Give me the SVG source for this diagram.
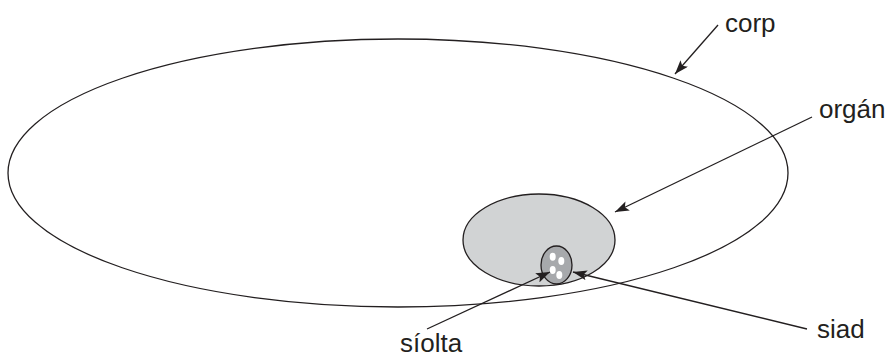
<svg xmlns="http://www.w3.org/2000/svg" width="889" height="359" viewBox="0 0 889 359">
<style>
.lbl{font-family:"Liberation Sans",Arial,sans-serif;font-size:26px;fill:#231f20}
.ln{stroke:#231f20;stroke-width:1.3;fill:none}
.con{stroke:#231f20;stroke-width:1.3;fill:none;marker-end:url(#ah)}
</style>
<defs>
<marker id="ah" viewBox="0 0 14 10" refX="14" refY="5" markerWidth="15" markerHeight="10" markerUnits="userSpaceOnUse" orient="auto">
<path d="M0,0 L14,5 L0,10 L3,5 Z" fill="#231f20"/>
</marker>
</defs>
<rect width="889" height="359" fill="#fff"/>
<g id="corp">
<ellipse class="ln" cx="398" cy="173" rx="390" ry="134"/>
<text class="lbl" x="725" y="32">corp</text>
</g>
<g id="organ">
<ellipse cx="539" cy="240" rx="76" ry="46" fill="#d1d3d4" stroke="#231f20" stroke-width="1.3"/>
<text class="lbl" x="819" y="118">orgán</text>
</g>
<g id="siolta">
<ellipse cx="556.5" cy="265" rx="15.5" ry="19" fill="#a7a9ac" stroke="#231f20" stroke-width="1.3"/>
<ellipse cx="552.7" cy="256.7" rx="3" ry="4" fill="#fff"/>
<ellipse cx="561.3" cy="261" rx="3" ry="4" fill="#fff"/>
<ellipse cx="552.7" cy="270" rx="3" ry="4" fill="#fff"/>
<ellipse cx="559.3" cy="275" rx="3" ry="4" fill="#fff"/>
<text class="lbl" x="400" y="352">síolta</text>
</g>
<g id="siad">
<text class="lbl" x="817" y="338">siad</text>
</g>
<g id="connectors">
<line class="con" x1="718" y1="25" x2="675" y2="74"/>
<line class="con" x1="812" y1="117" x2="615" y2="212"/>
<line class="con" x1="427" y1="329" x2="550" y2="272"/>
<line class="con" x1="807" y1="329" x2="573" y2="272"/>
</g>
</svg>
